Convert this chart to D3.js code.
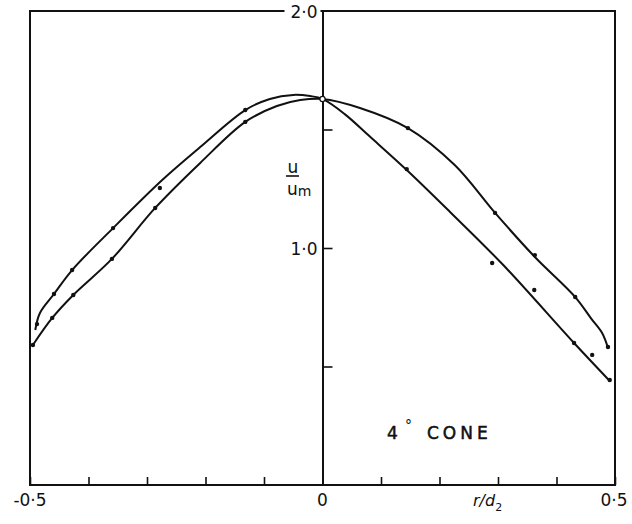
<!DOCTYPE html>
<html>
<head>
<meta charset="utf-8">
<script src="https://cdn.jsdelivr.net/npm/d3@7"></script>
<style>
  body { margin: 0; background: #fff; }
  svg { display: block; }
  text { font-family: "DejaVu Sans", sans-serif; fill: #111; }
</style>
</head>
<body>
<div id="chart"></div>
<script>
// traced smooth curves (r/d2, u/um)
var curveA = [[-0.491,0.654],[-0.483,0.726],[-0.459,0.806],[-0.428,0.907],[-0.358,1.084],
  [-0.274,1.287],[-0.209,1.426],[-0.132,1.582],[-0.090,1.629],[-0.050,1.646],[-0.021,1.641],
  [0.0,1.629],[0.038,1.565],[0.081,1.470],[0.144,1.329],[0.218,1.152],[0.309,0.928],
  [0.430,0.599],[0.491,0.439]];
var curveB = [[-0.495,0.591],[-0.462,0.705],[-0.426,0.802],[-0.360,0.954],[-0.286,1.169],
  [-0.209,1.359],[-0.132,1.532],[-0.078,1.599],[-0.038,1.624],[0.0,1.629],[0.064,1.591],
  [0.146,1.506],[0.226,1.350],[0.295,1.148],[0.363,0.962],[0.432,0.793],
  [0.460,0.700],[0.478,0.641],[0.488,0.578]];

// measured points
var pointsA = [[-0.488,0.679],[-0.459,0.806],[-0.428,0.907],[-0.358,1.084],[-0.278,1.253],
  [-0.132,1.582],[0.144,1.333],[0.290,0.937],[0.362,0.823],[0.430,0.599],[0.461,0.549],[0.491,0.443]];
var pointsB = [[-0.495,0.591],[-0.462,0.705],[-0.426,0.802],[-0.360,0.954],[-0.286,1.169],
  [-0.132,1.532],[0.146,1.506],[0.295,1.148],[0.363,0.970],[0.432,0.793],[0.488,0.582]];
var centrePoint = [0.0, 1.629];

var xTickValues = [-0.5,-0.4,-0.3,-0.2,-0.1,0,0.1,0.2,0.3,0.4,0.5];
var xLabelValues = [-0.5, 0, 0.5];
var xLabels = ["-0·5", "0", "0·5"];
var yTickValues = [0.5, 1.0, 1.5];
var yLabelValues = [1.0, 2.0];
var yLabels = ["1·0", "2·0"];

var width = 632, height = 524;
var x = d3.scaleLinear().domain([-0.5, 0.5]).range([30, 615]);
var y = d3.scaleLinear().domain([0, 2]).range([485, 11]);

var svg = d3.select("#chart")
    .append("svg")
    .attr("width", width)
    .attr("height", height);

// frame
svg.append("rect")
    .attr("x", x(-0.5))
    .attr("y", y(2))
    .attr("width", x(0.5) - x(-0.5))
    .attr("height", y(0) - y(2))
    .attr("fill", "none")
    .attr("stroke", "#111")
    .attr("stroke-width", 2);

// bottom ticks, pointing up
svg.append("g")
    .attr("transform", "translate(0," + y(0) + ")")
    .call(d3.axisBottom(x).tickValues(xTickValues).tickSize(-8).tickFormat(""))
    .call(function(g) { g.select(".domain").remove(); })
    .selectAll("line")
    .attr("stroke", "#111")
    .attr("stroke-width", 1.6);

// centre axis with ticks to the right
var yAxis = svg.append("g")
    .attr("transform", "translate(" + x(0) + ",0)")
    .call(d3.axisRight(y).tickValues(yTickValues).tickSize(10).tickSizeOuter(0).tickFormat(""));
yAxis.select(".domain").attr("stroke", "#111").attr("stroke-width", 2);
yAxis.selectAll("line").attr("stroke", "#111").attr("stroke-width", 1.6);

// x labels
svg.selectAll(".xlabel")
    .data(xLabelValues)
    .enter()
    .append("text")
    .attr("class", "xlabel")
    .attr("x", function(d, i) { return x(d) + (i == 2 ? -1 : 0); })
    .attr("y", 506)
    .attr("text-anchor", "middle")
    .attr("font-size", 17)
    .text(function(d, i) { return xLabels[i]; });

// y labels (white box breaks the top border under 2·0)
svg.selectAll(".ylabel-bg")
    .data(yLabelValues)
    .enter()
    .append("rect")
    .attr("x", x(0) - 38)
    .attr("y", function(d) { return y(d) - 8; })
    .attr("width", 36)
    .attr("height", 16)
    .attr("fill", "#fff");

svg.selectAll(".ylabel")
    .data(yLabelValues)
    .enter()
    .append("text")
    .attr("class", "ylabel")
    .attr("x", x(0) - 5)
    .attr("y", function(d) { return y(d) + 7; })
    .attr("text-anchor", "end")
    .attr("font-size", 17)
    .text(function(d, i) { return yLabels[i]; });

// u / um
var ulab = svg.append("g").attr("transform", "translate(286,0)");
ulab.append("text").attr("x", 7).attr("y", 173).attr("text-anchor", "middle")
    .attr("font-size", 17).text("u");
ulab.append("line").attr("x1", 0).attr("x2", 13).attr("y1", 176).attr("y2", 176)
    .attr("stroke", "#111").attr("stroke-width", 1.6);
ulab.append("text").attr("x", 1).attr("y", 195).attr("font-size", 17)
    .text("u").append("tspan").attr("font-size", 14).attr("dy", 1).text("m");

// r/d2
var rlab = svg.append("text").attr("x", 473).attr("y", 506).attr("font-size", 16)
    .attr("font-style", "italic");
rlab.append("tspan").text("r/d");
rlab.append("tspan").attr("font-size", 11).attr("dy", 5).attr("font-style", "normal").text("2");

// 4° CONE
svg.append("text").attr("x", 387).attr("y", 439).attr("font-size", 17)
    .attr("stroke", "#111").attr("stroke-width", 0.5).text("4");
svg.append("text").attr("x", 405).attr("y", 430).attr("font-size", 14).text("°");
svg.append("text").attr("x", 427).attr("y", 439).attr("font-size", 17)
    .attr("letter-spacing", 4)
    .attr("stroke", "#111").attr("stroke-width", 0.5).text("CONE");

// curves
var line = d3.line()
    .x(function(d) { return x(d[0]); })
    .y(function(d) { return y(d[1]); })
    .curve(d3.curveCatmullRom.alpha(0.5));

[curveA, curveB].forEach(function(c) {
  svg.append("path")
      .datum(c)
      .attr("d", line)
      .attr("fill", "none")
      .attr("stroke", "#111")
      .attr("stroke-width", 2);
});

svg.selectAll(".pt")
    .data(pointsA.concat(pointsB))
    .enter()
    .append("circle")
    .attr("class", "pt")
    .attr("cx", function(d) { return x(d[0]); })
    .attr("cy", function(d) { return y(d[1]); })
    .attr("r", 2.2)
    .attr("fill", "#111");

svg.append("circle")
    .attr("cx", x(centrePoint[0]))
    .attr("cy", y(centrePoint[1]))
    .attr("r", 2.6)
    .attr("fill", "#fff")
    .attr("stroke", "#111")
    .attr("stroke-width", 1.2);
</script>
</body>
</html>
